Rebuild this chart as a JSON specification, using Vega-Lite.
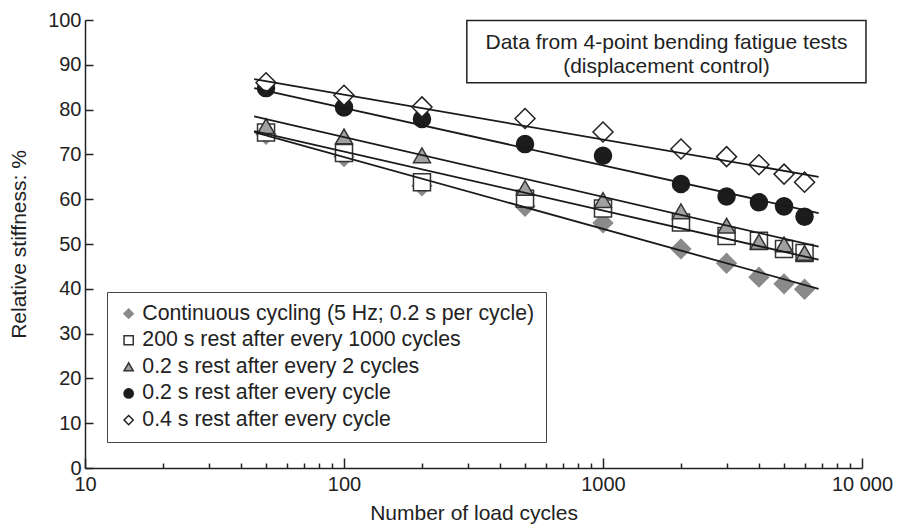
{
  "$schema": "https://vega.github.io/schema/vega-lite/v6.json",
  "width": 777,
  "height": 448,
  "autosize": {"type": "none"},
  "padding": {"left": 85, "top": 20, "right": 35, "bottom": 58},
  "config": {
    "font": "Liberation Sans",
    "view": {"stroke": null},
    "axis": {
      "grid": false,
      "domainColor": "#222",
      "domainWidth": 1.5,
      "tickColor": "#222",
      "tickWidth": 1.5,
      "labelColor": "#222",
      "titleColor": "#222",
      "labelFont": "Liberation Sans",
      "titleFont": "Liberation Sans",
      "labelFontSize": 20,
      "titleFontSize": 21,
      "titleFontWeight": "normal"
    },
    "legend": {
      "labelFont": "Liberation Sans",
      "labelFontSize": 21.3,
      "labelColor": "#222",
      "labelLimit": 600,
      "symbolSize": 85,
      "symbolStrokeWidth": 1.5,
      "rowPadding": 4.6,
      "labelOffset": 3,
      "padding": 11,
      "strokeColor": "#444",
      "fillColor": "white"
    }
  },
  "datasets": {
    "points": [
      {"series": "Continuous cycling (5 Hz; 0.2 s per cycle)", "cycles": 50, "stiffness": 74.5},
      {"series": "Continuous cycling (5 Hz; 0.2 s per cycle)", "cycles": 100, "stiffness": 69.5},
      {"series": "Continuous cycling (5 Hz; 0.2 s per cycle)", "cycles": 200, "stiffness": 63.0},
      {"series": "Continuous cycling (5 Hz; 0.2 s per cycle)", "cycles": 500, "stiffness": 58.4},
      {"series": "Continuous cycling (5 Hz; 0.2 s per cycle)", "cycles": 1000, "stiffness": 54.7},
      {"series": "Continuous cycling (5 Hz; 0.2 s per cycle)", "cycles": 2000, "stiffness": 48.9},
      {"series": "Continuous cycling (5 Hz; 0.2 s per cycle)", "cycles": 3000, "stiffness": 45.7},
      {"series": "Continuous cycling (5 Hz; 0.2 s per cycle)", "cycles": 4000, "stiffness": 42.6},
      {"series": "Continuous cycling (5 Hz; 0.2 s per cycle)", "cycles": 5000, "stiffness": 41.1},
      {"series": "Continuous cycling (5 Hz; 0.2 s per cycle)", "cycles": 6000, "stiffness": 39.9},
      {"series": "200 s rest after every 1000 cycles", "cycles": 50, "stiffness": 74.9},
      {"series": "200 s rest after every 1000 cycles", "cycles": 100, "stiffness": 70.3},
      {"series": "200 s rest after every 1000 cycles", "cycles": 200, "stiffness": 63.8},
      {"series": "200 s rest after every 1000 cycles", "cycles": 500, "stiffness": 60.1},
      {"series": "200 s rest after every 1000 cycles", "cycles": 1000, "stiffness": 57.9},
      {"series": "200 s rest after every 1000 cycles", "cycles": 2000, "stiffness": 54.8},
      {"series": "200 s rest after every 1000 cycles", "cycles": 3000, "stiffness": 51.8},
      {"series": "200 s rest after every 1000 cycles", "cycles": 4000, "stiffness": 50.7},
      {"series": "200 s rest after every 1000 cycles", "cycles": 5000, "stiffness": 48.9},
      {"series": "200 s rest after every 1000 cycles", "cycles": 6000, "stiffness": 48.0},
      {"series": "0.2 s rest after every 2 cycles", "cycles": 50, "stiffness": 76.3},
      {"series": "0.2 s rest after every 2 cycles", "cycles": 100, "stiffness": 74.0},
      {"series": "0.2 s rest after every 2 cycles", "cycles": 200, "stiffness": 69.8},
      {"series": "0.2 s rest after every 2 cycles", "cycles": 500, "stiffness": 62.5},
      {"series": "0.2 s rest after every 2 cycles", "cycles": 1000, "stiffness": 59.8},
      {"series": "0.2 s rest after every 2 cycles", "cycles": 2000, "stiffness": 57.3},
      {"series": "0.2 s rest after every 2 cycles", "cycles": 3000, "stiffness": 54.1},
      {"series": "0.2 s rest after every 2 cycles", "cycles": 4000, "stiffness": 50.5},
      {"series": "0.2 s rest after every 2 cycles", "cycles": 5000, "stiffness": 49.9},
      {"series": "0.2 s rest after every 2 cycles", "cycles": 6000, "stiffness": 48.0},
      {"series": "0.2 s rest after every cycle", "cycles": 50, "stiffness": 84.8},
      {"series": "0.2 s rest after every cycle", "cycles": 100, "stiffness": 80.5},
      {"series": "0.2 s rest after every cycle", "cycles": 200, "stiffness": 77.9},
      {"series": "0.2 s rest after every cycle", "cycles": 500, "stiffness": 72.3},
      {"series": "0.2 s rest after every cycle", "cycles": 1000, "stiffness": 69.7},
      {"series": "0.2 s rest after every cycle", "cycles": 2000, "stiffness": 63.4},
      {"series": "0.2 s rest after every cycle", "cycles": 3000, "stiffness": 60.6},
      {"series": "0.2 s rest after every cycle", "cycles": 4000, "stiffness": 59.3},
      {"series": "0.2 s rest after every cycle", "cycles": 5000, "stiffness": 58.4},
      {"series": "0.2 s rest after every cycle", "cycles": 6000, "stiffness": 56.1},
      {"series": "0.4 s rest after every cycle", "cycles": 50, "stiffness": 86.0},
      {"series": "0.4 s rest after every cycle", "cycles": 100, "stiffness": 83.2},
      {"series": "0.4 s rest after every cycle", "cycles": 200, "stiffness": 80.6},
      {"series": "0.4 s rest after every cycle", "cycles": 500, "stiffness": 78.0},
      {"series": "0.4 s rest after every cycle", "cycles": 1000, "stiffness": 75.0},
      {"series": "0.4 s rest after every cycle", "cycles": 2000, "stiffness": 71.2},
      {"series": "0.4 s rest after every cycle", "cycles": 3000, "stiffness": 69.5},
      {"series": "0.4 s rest after every cycle", "cycles": 4000, "stiffness": 67.7},
      {"series": "0.4 s rest after every cycle", "cycles": 5000, "stiffness": 65.6},
      {"series": "0.4 s rest after every cycle", "cycles": 6000, "stiffness": 63.8}
    ],
    "fits": [
      {"series": "Continuous cycling (5 Hz; 0.2 s per cycle)", "cycles": 45, "stiffness": 75.0},
      {"series": "Continuous cycling (5 Hz; 0.2 s per cycle)", "cycles": 6800, "stiffness": 40.0},
      {"series": "200 s rest after every 1000 cycles", "cycles": 45, "stiffness": 75.2},
      {"series": "200 s rest after every 1000 cycles", "cycles": 6800, "stiffness": 46.5},
      {"series": "0.2 s rest after every 2 cycles", "cycles": 45, "stiffness": 78.5},
      {"series": "0.2 s rest after every 2 cycles", "cycles": 6800, "stiffness": 49.4},
      {"series": "0.2 s rest after every cycle", "cycles": 45, "stiffness": 84.8},
      {"series": "0.2 s rest after every cycle", "cycles": 6800, "stiffness": 56.9},
      {"series": "0.4 s rest after every cycle", "cycles": 45, "stiffness": 86.8},
      {"series": "0.4 s rest after every cycle", "cycles": 6800, "stiffness": 65.0}
    ],
    "noteBox": [
      {"cycles": 298, "cycles2": 10360, "stiffness": 86.0, "stiffness2": 99.9}
    ],
    "noteText": [
      {"cycles": 1758, "stiffness": 94.8, "label": "Data from 4-point bending fatigue tests"},
      {"cycles": 1758, "stiffness": 89.5, "label": "(displacement control)"}
    ]
  },
  "layer": [
    {
      "data": {"name": "points"},
      "transform": [{"filter": {"field": "series", "equal": "Continuous cycling (5 Hz; 0.2 s per cycle)"}}],
      "mark": {"type": "point", "opacity": 1, "strokeWidth": 1.5, "size": 370},
      "encoding": {
        "x": {
          "field": "cycles",
          "type": "quantitative",
          "title": "Number of load cycles",
          "scale": {"type": "log", "domain": [10, 10000], "nice": false},
          "axis": {
            "values": [10, 20, 30, 40, 50, 60, 70, 80, 90, 100, 200, 300, 400, 500, 600, 700, 800, 900, 1000, 2000, 3000, 4000, 5000, 6000, 7000, 8000, 9000, 10000],
            "labelExpr": "datum.value == 10000 ? '10 000' : (datum.value == 10 || datum.value == 100 || datum.value == 1000 ? '' + datum.value : '')",
            "labelFlush": false,
            "labelOverlap": false,
            "tickSize": {"condition": {"test": "datum.value == 10 || datum.value == 100 || datum.value == 1000 || datum.value == 10000", "value": -10}, "value": -5},
            "labelPadding": 16,
            "titlePadding": 3
          }
        },
        "y": {
          "field": "stiffness",
          "type": "quantitative",
          "title": "Relative stiffness: %",
          "scale": {"domain": [0, 100], "nice": false},
          "axis": {
            "values": [0, 10, 20, 30, 40, 50, 60, 70, 80, 90, 100],
            "tickSize": -8,
            "labelPadding": 12,
            "titlePadding": 18
          }
        },
        "shape": {
          "field": "series",
          "type": "nominal",
          "scale": {
            "domain": ["Continuous cycling (5 Hz; 0.2 s per cycle)", "200 s rest after every 1000 cycles", "0.2 s rest after every 2 cycles", "0.2 s rest after every cycle", "0.4 s rest after every cycle"],
            "range": ["diamond", "square", "triangle-up", "circle", "diamond"]
          },
          "legend": {"title": null, "orient": "none", "legendX": 22, "legendY": 272}
        },
        "fill": {
          "field": "series",
          "type": "nominal",
          "scale": {
            "domain": ["Continuous cycling (5 Hz; 0.2 s per cycle)", "200 s rest after every 1000 cycles", "0.2 s rest after every 2 cycles", "0.2 s rest after every cycle", "0.4 s rest after every cycle"],
            "range": ["#8a8a8a", "#ffffff", "#a0a0a0", "#1c1c1c", "#ffffff"]
          },
          "legend": {"title": null, "orient": "none", "legendX": 22, "legendY": 272}
        },
        "stroke": {
          "field": "series",
          "type": "nominal",
          "scale": {
            "domain": ["Continuous cycling (5 Hz; 0.2 s per cycle)", "200 s rest after every 1000 cycles", "0.2 s rest after every 2 cycles", "0.2 s rest after every cycle", "0.4 s rest after every cycle"],
            "range": ["#8a8a8a", "#333333", "#333333", "#1c1c1c", "#222222"]
          },
          "legend": {"title": null, "orient": "none", "legendX": 22, "legendY": 272}
        }
      }
    },
    {
      "data": {"name": "points"},
      "transform": [{"filter": {"field": "series", "oneOf": ["200 s rest after every 1000 cycles", "0.2 s rest after every 2 cycles", "0.2 s rest after every cycle"]}}],
      "mark": {"type": "point", "opacity": 1, "strokeWidth": 1.5, "size": 290},
      "encoding": {
        "x": {"field": "cycles", "type": "quantitative", "scale": {"type": "log", "domain": [10, 10000], "nice": false}},
        "y": {"field": "stiffness", "type": "quantitative", "scale": {"domain": [0, 100], "nice": false}},
        "shape": {"field": "series", "type": "nominal"},
        "fill": {"field": "series", "type": "nominal"},
        "stroke": {"field": "series", "type": "nominal"}
      }
    },
    {
      "data": {"name": "points"},
      "transform": [{"filter": {"field": "series", "equal": "0.4 s rest after every cycle"}}],
      "mark": {"type": "point", "opacity": 1, "strokeWidth": 1.5, "size": 400},
      "encoding": {
        "x": {"field": "cycles", "type": "quantitative", "scale": {"type": "log", "domain": [10, 10000], "nice": false}},
        "y": {"field": "stiffness", "type": "quantitative", "scale": {"domain": [0, 100], "nice": false}},
        "shape": {"field": "series", "type": "nominal"},
        "fill": {"field": "series", "type": "nominal"},
        "stroke": {"field": "series", "type": "nominal"}
      }
    },
    {
      "data": {"name": "fits"},
      "mark": {"type": "line", "color": "#1a1a1a", "strokeWidth": 1.8},
      "encoding": {
        "x": {"field": "cycles", "type": "quantitative", "scale": {"type": "log", "domain": [10, 10000], "nice": false}},
        "y": {"field": "stiffness", "type": "quantitative", "scale": {"domain": [0, 100], "nice": false}},
        "detail": {"field": "series", "type": "nominal"}
      }
    },
    {
      "data": {"name": "noteBox"},
      "mark": {"type": "rect", "fill": "white", "stroke": "#222", "strokeWidth": 1.5, "clip": false},
      "encoding": {
        "x": {"field": "cycles", "type": "quantitative", "scale": {"type": "log", "domain": [10, 10000], "nice": false}},
        "x2": {"field": "cycles2"},
        "y": {"field": "stiffness", "type": "quantitative", "scale": {"domain": [0, 100], "nice": false}},
        "y2": {"field": "stiffness2"}
      }
    },
    {
      "data": {"name": "noteText"},
      "mark": {"type": "text", "fontSize": 21, "color": "#222", "align": "center", "baseline": "middle", "font": "Liberation Sans"},
      "encoding": {
        "x": {"field": "cycles", "type": "quantitative", "scale": {"type": "log", "domain": [10, 10000], "nice": false}},
        "y": {"field": "stiffness", "type": "quantitative", "scale": {"domain": [0, 100], "nice": false}},
        "text": {"field": "label", "type": "nominal"}
      }
    }
  ]
}
